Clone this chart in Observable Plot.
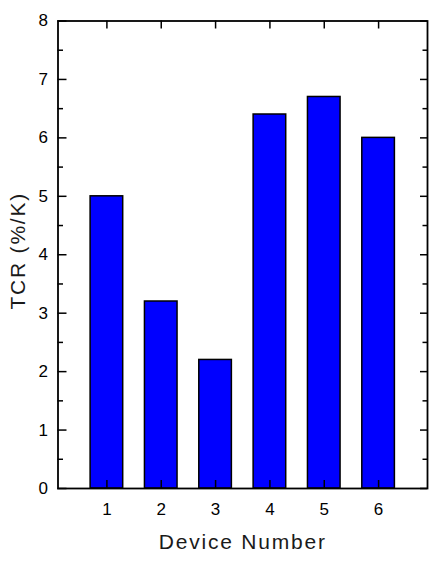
<!DOCTYPE html>
<html><head><meta charset="utf-8">
<script src="https://cdn.jsdelivr.net/npm/d3@7"></script>
<script src="https://cdn.jsdelivr.net/npm/@observablehq/plot@0.6"></script>
<style>body{margin:0;background:#fff} .ttl text{letter-spacing:1.8px}</style>
</head><body><div id="chart"></div>
<script>
const devices = [1, 2, 3, 4, 5, 6];
const tcr = [5.0, 3.2, 2.2, 6.4, 6.7, 6.0];
const yMajor = [0, 1, 2, 3, 4, 5, 6, 7, 8];
const yMinor = [0.5, 1.5, 2.5, 3.5, 4.5, 5.5, 6.5, 7.5];
const xLabel = "Device Number";
const yLabel = "TCR (%/K)";

const data = devices.map((d, i) => ({device: d, tcr: tcr[i]}));
const W = 436, H = 562, mL = 57.5, mR = 9, mT = 20.5, mB = 74;
const fw = W - mL - mR, fh = H - mT - mB;

const chart = Plot.plot({
  width: W, height: H,
  marginLeft: mL, marginRight: mR, marginTop: mT, marginBottom: mB,
  style: {fontFamily: "'Liberation Sans', Arial, sans-serif", background: "#fff", color: "#000"},
  x: {domain: [0.1, 6.9], axis: null},
  y: {domain: [0, 8], axis: null},
  marks: [
    Plot.rectY(data, {x1: d => d.device - 0.3, x2: d => d.device + 0.3, y: "tcr", fill: "#0000ff", stroke: "#000", strokeWidth: 1.5}),
    // inward ticks, left
    Plot.tickY(yMajor, {y: d => d, insetRight: fw - 9, stroke: "#000", strokeWidth: 1.5}),
    Plot.tickY(yMinor, {y: d => d, insetRight: fw - 5.5, stroke: "#000", strokeWidth: 1.5}),
    // inward ticks, right
    Plot.tickY(yMajor, {y: d => d, insetLeft: fw - 7, stroke: "#000", strokeWidth: 1.5}),
    Plot.tickY(yMinor, {y: d => d, insetLeft: fw - 4.5, stroke: "#000", strokeWidth: 1.5}),
    // inward ticks, top and bottom
    Plot.tickX(devices, {x: d => d, insetBottom: fh - 8, stroke: "#000", strokeWidth: 1.5}),
    Plot.tickX(devices, {x: d => d, insetTop: fh - 8, stroke: "#000", strokeWidth: 1.5}),
    Plot.frame({stroke: "#000", strokeWidth: 1.8}),
    Plot.axisY(yMajor, {tickSize: 0, tickPadding: 10, fontSize: 17, label: null, tickFormat: d => d}),
    Plot.axisX(devices, {tickSize: 0, tickPadding: 14, fontSize: 17, label: null, tickFormat: d => d}),
    Plot.text([yLabel], {frameAnchor: "left", textAnchor: "middle", rotate: -90, dx: -40, dy: -4, fontSize: 21, fill: "#1a1a1a", className: "ttl"}),
    Plot.text([xLabel], {frameAnchor: "bottom", textAnchor: "middle", dy: 60, fontSize: 21, fill: "#1a1a1a", className: "ttl"})
  ]
});
document.getElementById("chart").appendChild(chart);
</script>
</body></html>
